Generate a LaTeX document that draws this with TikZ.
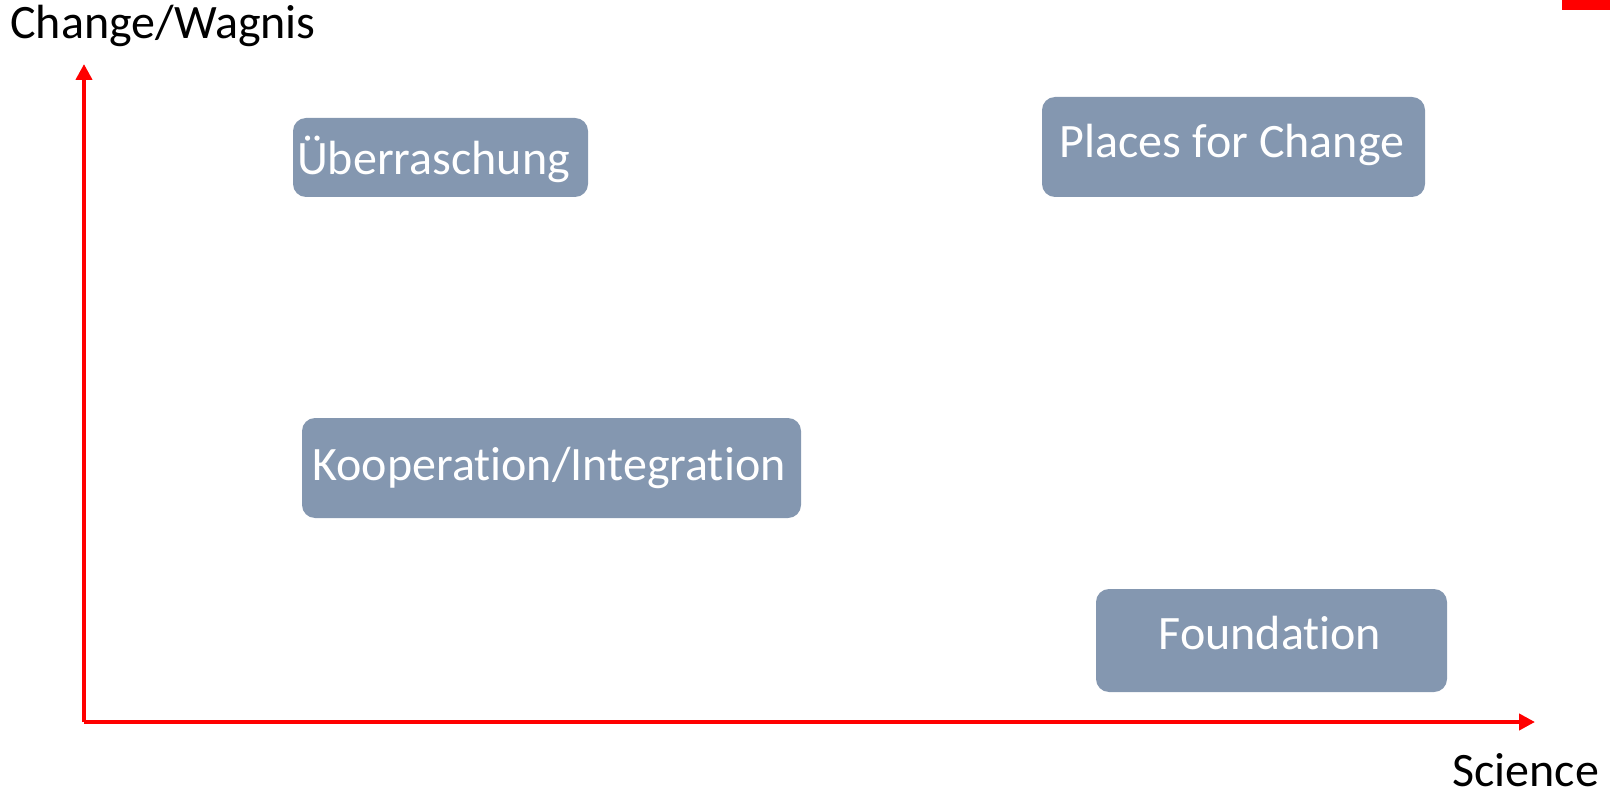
\documentclass[tikz,border=0pt]{standalone}
\usepackage{fontspec}
\setmainfont{Carlito}[Ligatures=NoCommon]
\usetikzlibrary{arrows.meta}
\definecolor{boxblue}{HTML}{8497B0}
\definecolor{axisred}{HTML}{FF0000}
\begin{document}
\begin{tikzpicture}[x=0.5pt,y=-0.5pt,
  quad/.style={draw=none,fill=boxblue,rounded corners=6.5pt,inner sep=0pt},
  qtext/.style={text=white,font=\fontsize{24}{28}\selectfont,inner sep=0pt,anchor=base},
  axis/.style={draw=axisred,line width=2pt,-{Triangle[length=8pt,width=8pt]}},
  lbl/.style={font=\fontsize{24}{28}\selectfont,text=black,inner sep=0pt,anchor=base west}]
\useasboundingbox (0,0) rectangle (1610,796);
\fill[axisred] (1562,0) rectangle (1610,10);
\coordinate (o) at (84,722);
\coordinate (ytip) at (84,64);
\coordinate (xtip) at (1535,722);
\draw[axis] (o) -- (ytip);
\draw[axis] (o) -- (xtip);
\node[lbl] (ylabel) at (10,39) {Change/Wagnis};
\node[lbl] (xlabel) at (1452,786) {Science};
\node[quad,minimum width=147.5pt,minimum height=39.5pt] (ueb) at (440.5,157.5) {};
\node[qtext] (uebt) at (433.5,175) {Überraschung};
\node[quad,minimum width=191.5pt,minimum height=50pt] (places) at (1233.5,147) {};
\node[qtext] (placest) at (1232,158) {Places for Change};
\node[quad,minimum width=249.5pt,minimum height=50pt] (koop) at (551.5,468) {};
\node[qtext] (koopt) at (549,480) {Kooperation/Integration};
\node[quad,minimum width=175.5pt,minimum height=51.5pt] (found) at (1271.5,640.5) {};
\node[qtext] (foundt) at (1270,649) {Foundation};
\end{tikzpicture}
\end{document}
